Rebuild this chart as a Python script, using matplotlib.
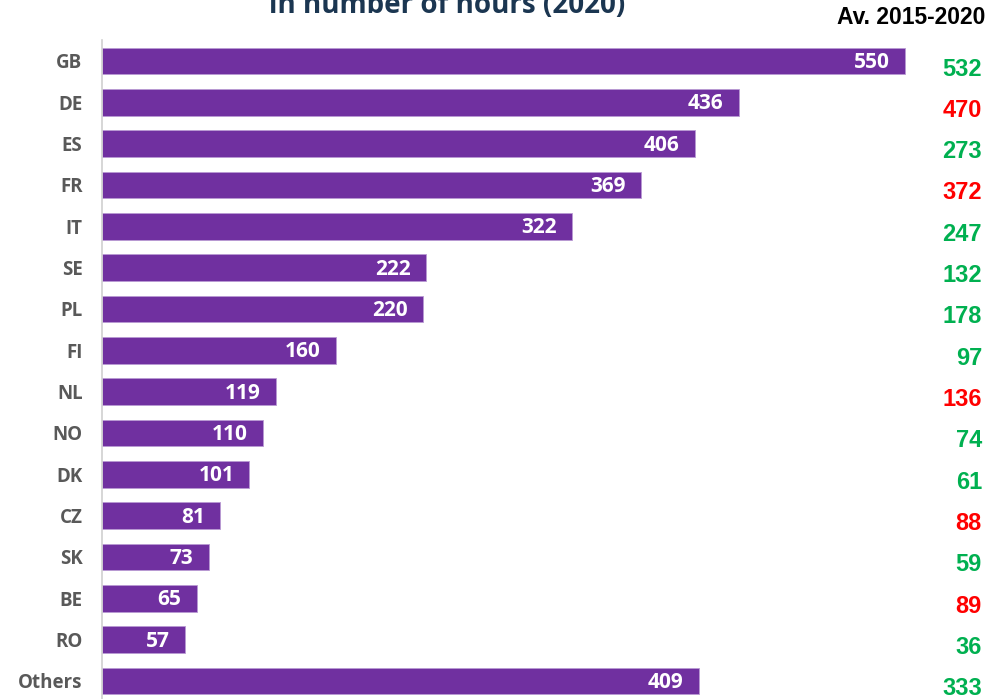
import matplotlib
matplotlib.use("Agg")
import matplotlib.pyplot as plt

countries = ["GB", "DE", "ES", "FR", "IT", "SE", "PL", "FI", "NL", "NO", "DK", "CZ", "SK", "BE", "RO", "Others"]
hours_2020 = [550, 436, 406, 369, 322, 222, 220, 160, 119, 110, 101, 81, 73, 65, 57, 409]
avg_2015_2020 = [532, 470, 273, 372, 247, 132, 178, 97, 136, 74, 61, 88, 59, 89, 36, 333]

W, H = 987, 699
fig = plt.figure(figsize=(W / 100, H / 100), dpi=100)

scale = 803 / 550.0  # px per unit
x0 = 102
xmax = 600
step = 41.33
top_px = 61 - 0.5 * step
bot_px = 61 + 15.5 * step
ax = fig.add_axes([x0 / W, 1 - bot_px / H, xmax * scale / W, (bot_px - top_px) / H])

ypos = list(range(len(countries)))
ax.barh(ypos, hours_2020, height=0.65, color="#7030a0", edgecolor="#b99ad3", linewidth=0.6, zorder=2)
ax.set_xlim(0, xmax)
ax.set_ylim(len(countries) - 0.5, -0.5)

for s in ["top", "right", "bottom"]:
    ax.spines[s].set_visible(False)
ax.spines["left"].set_color("#d0d0d0")
ax.spines["left"].set_linewidth(1.2)
ax.set_xticks([])
ax.set_yticks(ypos)
ax.set_yticklabels(countries, fontfamily="Open Sans", fontweight="bold", fontsize=13.5, color="#595959")
ax.tick_params(axis="y", length=0, pad=14)
for t in ax.get_yticklabels():
    t.set_y(t.get_position()[1])

for i, v in enumerate(hours_2020):
    ax.annotate(str(v), xy=(v, i), xytext=(-11, -1), textcoords="offset points",
                ha="right", va="center", color="white", fontsize=15,
                fontweight="bold", fontfamily="Open Sans")

for i, (v, a) in enumerate(zip(hours_2020, avg_2015_2020)):
    col = "#00b050" if v >= a else "#ff0000"
    y_px = 61 + i * step + 8
    fig.text(982 / W, 1 - y_px / H, str(a), ha="right", va="center", color=col,
             fontsize=17, fontweight="bold", fontfamily="Liberation Sans")

fig.text(985 / W, 1 - 18 / H, "Av. 2015-2020", ha="right", va="center", color="black",
         fontsize=16.5, fontweight="bold", fontfamily="Liberation Sans")

fig.text(447 / W, 1 - 13 / H, "in number of hours (2020)", ha="center", va="baseline",
         color="#1b3651", fontsize=20, fontweight="bold", fontfamily="Open Sans")

fig.savefig("out.png", dpi=100)
